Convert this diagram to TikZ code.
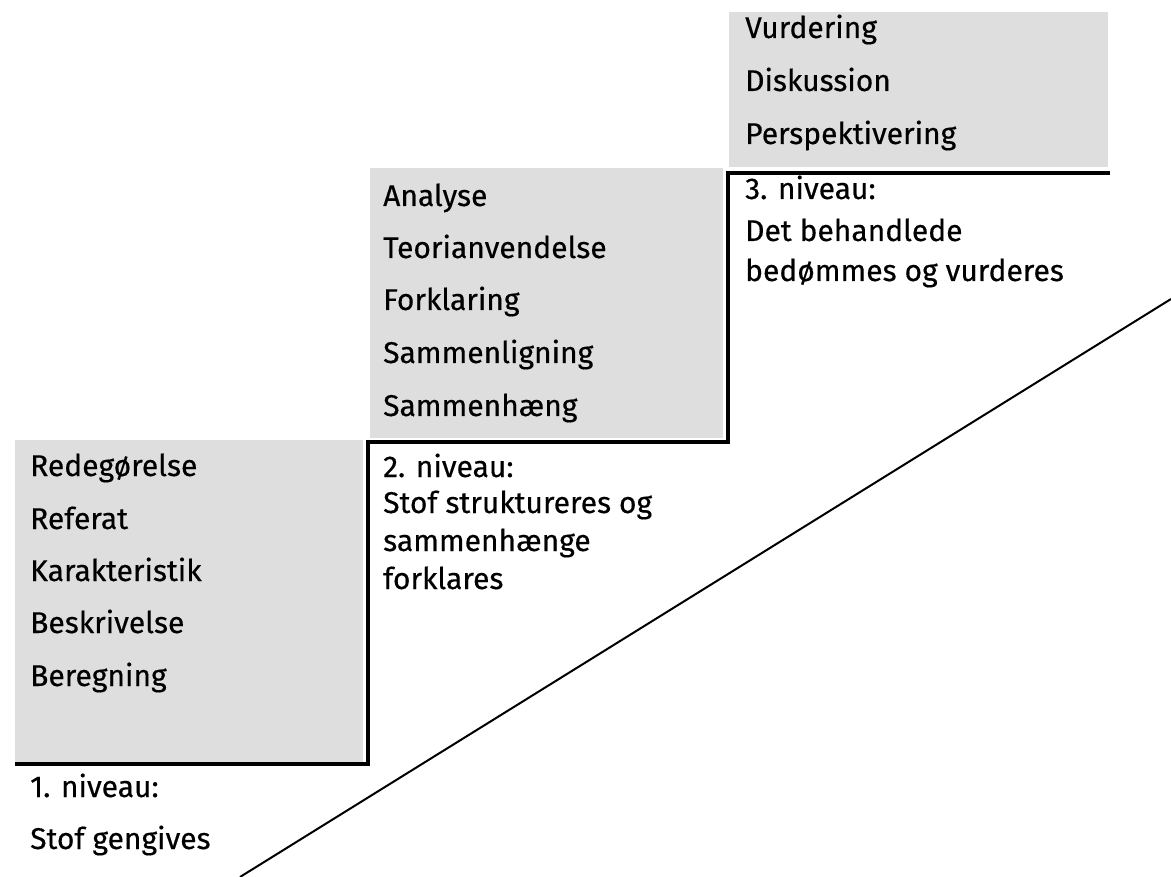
\documentclass[tikz,border=0pt]{standalone}
\usepackage{fontspec}
\setmainfont[FakeBold=0.4]{Fira Sans}
\definecolor{boxgray}{RGB}{222,222,222}
\tikzset{
  graybox/.style={fill=boxgray, draw=none},
  item/.style={anchor=base west, inner sep=0pt, font=\fontsize{30}{33}\selectfont},
  stair/.style={line width=4.5pt, draw=black, line join=miter},
  slope/.style={line width=2pt, draw=black}
}
\begin{document}
\begin{tikzpicture}[x=1pt,y=-1pt]
\useasboundingbox (0,0) rectangle (1171,877);
% gray boxes
\fill[graybox] (15,440) rectangle (363,762);
\fill[graybox] (370,168) rectangle (723,438);
\fill[graybox] (729,12) rectangle (1108,167);
% stair line
\coordinate (s0) at (15,764);
\coordinate (s1) at (368,764);
\coordinate (s2) at (368,442);
\coordinate (s3) at (728,442);
\coordinate (s4) at (728,173);
\coordinate (s5) at (1110,173);
\draw[stair] (s0) -- (s1) -- (s2) -- (s3) -- (s4) -- (s5);
% diagonal
\coordinate (d0) at (240,877);
\coordinate (d1) at (1171,299);
\draw[slope] (d0) -- (d1);
% level 1 (baselines)
\node[item] (a1) at (30,476) {Redegørelse};
\node[item] (a2) at (30,529) {Referat};
\node[item] (a3) at (30,581) {Karakteristik};
\node[item] (a4) at (30,633) {Beskrivelse};
\node[item] (a5) at (30,686) {Beregning};
\node[item] (l1a) at (30,797) {1. niveau:};
\node[item] (l1b) at (30,849) {Stof gengives};
% level 2
\node[item] (b1) at (383,206) {Analyse};
\node[item] (b2) at (383,258) {Teorianvendelse};
\node[item] (b3) at (383,310) {Forklaring};
\node[item] (b4) at (383,363) {Sammenligning};
\node[item] (b5) at (383,416) {Sammenhæng};
\node[item] (l2a) at (383,477) {2. niveau:};
\node[item] (l2b) at (383,513) {Stof struktureres og};
\node[item] (l2c) at (383,551) {sammenhænge};
\node[item] (l2d) at (383,589) {forklares};
% level 3
\node[item] (c1) at (745,38) {Vurdering};
\node[item] (c2) at (745,91) {Diskussion};
\node[item] (c3) at (745,144) {Perspektivering};
\node[item] (l3a) at (745,199) {3. niveau:};
\node[item] (l3b) at (745,241) {Det behandlede};
\node[item] (l3c) at (745,281) {bedømmes og vurderes};
\end{tikzpicture}
\end{document}
